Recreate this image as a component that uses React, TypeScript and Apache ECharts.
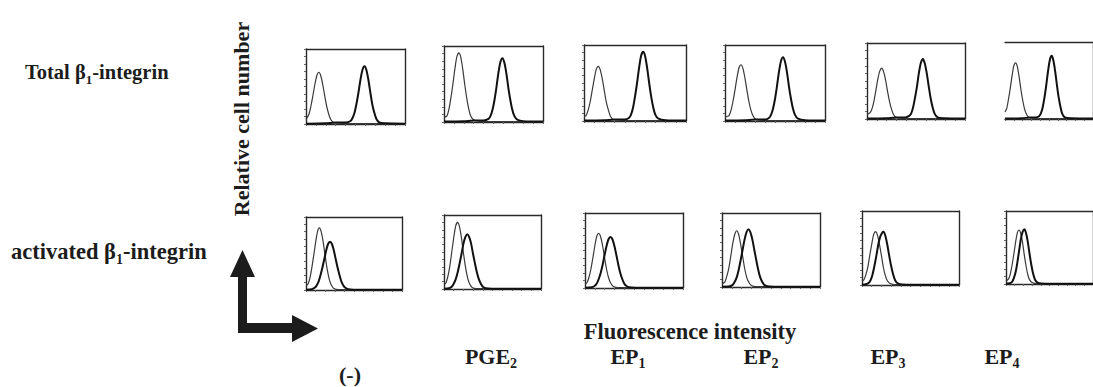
import React, { useEffect, useRef } from "react";
import * as echarts from "echarts";

// x = % of panel width (fluorescence), y = % of panel height (relative cell number)
// Row 1: Total β1-integrin ; CTRL = thin control histogram, AB = thick stained histogram
const TOP_NEG_CTRL = [[0,6],[3,13],[5,24],[7,38],[9,53],[11,65],[13,69],[15,64],[17,52],[19,37],[21,23],[23,13],[25,6],[28,2],[33,1],[50,0.5],[100,0.5]];
const TOP_NEG_AB = [[0,0.5],[20,1],[30,2],[40,2],[45,4],[47,8],[49,15],[51,27],[53,42],[55,59],[57,72],[59,77],[61,72],[63,59],[65,42],[67,26],[69,15],[71,7],[74,2],[80,1],[100,0.5]];
const TOP_PGE2_CTRL = [[0,6],[3,8],[5,17],[7,32],[9,50],[11,70],[13,86],[15,91],[17,85],[19,69],[21,49],[23,31],[25,17],[27,8],[30,3],[35,1],[50,0.5],[100,0.5]];
const TOP_PGE2_AB = [[0,0.5],[20,1],[30,2],[40,2],[45,4],[47,8],[49,16],[51,29],[53,46],[55,65],[57,79],[59,84],[61,78],[63,64],[65,45],[67,29],[69,16],[71,8],[74,3],[80,1],[100,0.5]];
const TOP_EP1_CTRL = [[0,6],[2,7],[4,14],[6,25],[8,40],[10,55],[12,68],[14,72],[16,67],[18,55],[20,39],[22,24],[24,14],[26,6],[29,2],[34,1],[50,0.5],[100,0.5]];
const TOP_EP1_AB = [[0,0.5],[20,1],[30,2],[40,2],[44,4],[46,8],[48,17],[50,32],[52,50],[54,70],[56,86],[58,91],[60,85],[62,69],[64,49],[66,31],[68,17],[70,8],[73,3],[80,1],[100,0.5]];
const TOP_EP2_CTRL = [[0,5],[2,6],[4,7],[6,14],[8,26],[10,41],[12,57],[14,70],[16,74],[18,69],[20,56],[22,40],[24,25],[26,14],[28,7],[31,2],[36,1],[50,0.5],[100,0.5]];
const TOP_EP2_AB = [[0,0.5],[20,1],[30,2],[40,2],[44,4],[46,8],[48,16],[50,29],[52,46],[54,65],[56,79],[58,84],[60,78],[62,64],[64,45],[66,29],[68,16],[70,8],[73,3],[80,1],[100,0.5]];
const TOP_EP3_CTRL = [[0,6],[3,8],[5,13],[7,23],[9,37],[11,52],[13,63],[15,67],[17,62],[19,51],[21,36],[23,23],[25,13],[27,6],[30,2],[35,1],[50,0.5],[100,0.5]];
const TOP_EP3_AB = [[0,0.5],[20,1],[30,2],[39,2],[43,4],[45,7],[47,15],[49,28],[51,43],[53,61],[55,74],[57,79],[59,73],[61,60],[63,43],[65,27],[67,15],[69,7],[72,2],[78,1],[100,0.5]];
const TOP_EP4_CTRL = [[0,9],[2,14],[4,26],[6,40],[8,56],[10,69],[12,73],[14,68],[16,55],[18,39],[20,25],[22,14],[24,7],[27,2],[32,1],[50,0.5],[100,0.5]];
const TOP_EP4_AB = [[0,0.5],[20,1],[28,2],[35,2],[39,4],[41,8],[43,16],[45,29],[47,45],[49,63],[51,77],[53,82],[55,76],[57,62],[59,44],[61,28],[63,16],[65,7],[68,2],[75,1],[100,0.5]];

// Row 2: activated β1-integrin
const BOT_NEG_CTRL = [[0,6],[2,8],[4,16],[6,30],[8,47],[10,65],[12,80],[14,85],[16,79],[18,65],[20,46],[22,29],[24,16],[26,8],[29,2],[34,0.5],[100,0.5]];
const BOT_NEG_AB = [[0,0.5],[6,1],[9,3],[11,6],[13,11],[15,20],[17,30],[19,42],[21,54],[23,63],[25,66],[27,63],[29,54],[31,42],[33,30],[35,20],[37,11],[39,6],[41,3],[44,1],[50,0.5],[100,0.5]];
const BOT_PGE2_CTRL = [[0,6],[2,8],[4,17],[6,31],[8,50],[10,69],[12,85],[14,90],[16,84],[18,69],[20,49],[22,31],[24,17],[26,8],[29,2],[34,0.5],[100,0.5]];
const BOT_PGE2_AB = [[0,0.5],[5,1],[8,3],[10,7],[12,13],[14,22],[16,34],[18,47],[20,61],[22,70],[24,74],[26,70],[28,61],[30,47],[32,34],[34,22],[36,13],[38,7],[40,3],[43,1],[50,0.5],[100,0.5]];
const BOT_EP1_CTRL = [[0,5],[2,7],[4,14],[6,25],[8,40],[10,56],[12,69],[14,73],[16,68],[18,56],[20,40],[22,25],[24,14],[26,7],[29,2],[34,0.5],[100,0.5]];
const BOT_EP1_AB = [[0,0.5],[7,1],[10,3],[12,6],[14,12],[16,20],[18,31],[20,44],[22,56],[24,65],[26,68],[28,65],[30,56],[32,44],[34,31],[36,20],[38,12],[40,6],[42,3],[45,1],[52,0.5],[100,0.5]];
const BOT_EP2_CTRL = [[0,4],[3,7],[5,15],[7,26],[9,42],[11,59],[13,71],[15,76],[17,71],[19,58],[21,42],[23,26],[25,14],[27,7],[30,2],[35,0.5],[100,0.5]];
const BOT_EP2_AB = [[0,0.5],[8,1],[11,3],[13,7],[15,13],[17,23],[19,36],[21,50],[23,64],[25,74],[27,78],[29,74],[31,64],[33,50],[35,36],[37,23],[39,13],[41,7],[43,3],[46,1],[53,0.5],[100,0.5]];
const BOT_EP3_CTRL = [[0,5],[2,7],[4,14],[6,24],[8,40],[10,55],[12,68],[14,72],[16,67],[18,55],[20,40],[22,24],[24,13],[26,6],[29,2],[34,0.5],[100,0.5]];
const BOT_EP3_AB = [[0,0.5],[4,1],[7,3],[9,7],[11,15],[13,27],[15,41],[17,56],[19,66],[21,71],[22,72],[24,67],[26,55],[28,40],[30,26],[32,15],[34,7],[36,3],[39,1],[46,0.5],[100,0.5]];
const BOT_EP4_CTRL = [[0,4],[3,7],[5,14],[7,26],[9,41],[11,57],[13,70],[15,74],[17,69],[19,57],[21,40],[23,25],[25,13],[27,6],[30,2],[35,0.5],[100,0.5]];
const BOT_EP4_AB = [[0,0.5],[4,1],[7,3],[9,8],[11,16],[13,29],[15,45],[17,61],[19,71],[21,75],[23,70],[25,58],[27,42],[29,27],[31,15],[33,7],[35,3],[38,1],[45,0.5],[100,0.5]];

// text pieces: [main, subscript, main]
const ROW_LABELS = [["Total β", "1", "-integrin"], ["activated β", "1", "-integrin"]];
const TREATMENTS = [["(-)"], ["PGE", "2"], ["EP", "1"], ["EP", "2"], ["EP", "3"], ["EP", "4"]];
const Y_TITLE = "Relative cell number";
const X_TITLE = "Fluorescence intensity";

const PANELS = [
  { box: [306, 49, 99, 75], ctrl: TOP_NEG_CTRL, ab: TOP_NEG_AB, left: true },
  { box: [444, 46, 99, 76], ctrl: TOP_PGE2_CTRL, ab: TOP_PGE2_AB, left: true },
  { box: [584, 45, 102, 76], ctrl: TOP_EP1_CTRL, ab: TOP_EP1_AB, left: true },
  { box: [725, 45, 100, 76], ctrl: TOP_EP2_CTRL, ab: TOP_EP2_AB, left: true },
  { box: [867, 43, 98, 76], ctrl: TOP_EP3_CTRL, ab: TOP_EP3_AB, left: true },
  { box: [1005, 42, 98, 77], ctrl: TOP_EP4_CTRL, ab: TOP_EP4_AB, left: false },
  { box: [306, 217, 96, 73], ctrl: BOT_NEG_CTRL, ab: BOT_NEG_AB, left: true },
  { box: [444, 215, 97, 74], ctrl: BOT_PGE2_CTRL, ab: BOT_PGE2_AB, left: true },
  { box: [585, 213, 98, 75], ctrl: BOT_EP1_CTRL, ab: BOT_EP1_AB, left: true },
  { box: [722, 213, 98, 74], ctrl: BOT_EP2_CTRL, ab: BOT_EP2_AB, left: true },
  { box: [862, 211, 97, 74], ctrl: BOT_EP3_CTRL, ab: BOT_EP3_AB, left: true },
  { box: [1006, 211, 98, 73], ctrl: BOT_EP4_CTRL, ab: BOT_EP4_AB, left: true },
];

const FONT = "'Liberation Serif', 'Times New Roman', serif";
const INK = "#1c1c1c";

let measureCtx: CanvasRenderingContext2D | null = null;
function measure(text: string, size: number) {
  if (!measureCtx) measureCtx = document.createElement("canvas").getContext("2d");
  if (!measureCtx) return text.length * size * 0.5;
  measureCtx.font = `bold ${size}px ${FONT}`;
  return measureCtx.measureText(text).width;
}

// pieces alternate main / subscript / main ...
function labelElements(pieces: string[], x: number, y: number, size: number, anchor: "left" | "center") {
  const subSize = Math.round(size * 0.62);
  const widths = pieces.map((p, i) => measure(p, i % 2 === 1 ? subSize : size));
  const total = widths.reduce((a, b) => a + b, 0);
  let cx = anchor === "center" ? x - total / 2 : x;
  const els: any[] = [];
  pieces.forEach((p, i) => {
    const isSub = i % 2 === 1;
    const fs = isSub ? subSize : size;
    els.push({
      type: "text", x: cx, y: isSub ? y + size * 0.36 : y,
      style: {
        text: p, font: `bold ${fs}px ${FONT}`, fill: INK,
        align: "left", verticalAlign: "middle", lineHeight: isSub ? subSize * 0.8 : size * 0.65,
      },
    });
    cx += widths[i];
  });
  return els;
}

export default function App() {
  const ref = useRef<HTMLDivElement>(null);
  useEffect(() => {
    if (!ref.current) return;
    const chart = echarts.init(ref.current, null, { renderer: "svg" });
    const axisLine = { show: true, onZero: false, lineStyle: { color: "#2a2a2a", width: 1.4 } };
    const grids: any[] = [];
    const xAxes: any[] = [];
    const yAxes: any[] = [];
    const series: any[] = [];
    PANELS.forEach((p, i) => {
      grids.push({ left: p.box[0], top: p.box[1], width: p.box[2], height: p.box[3], show: false });
      xAxes.push({
        gridIndex: i, type: "value", min: 0, max: 100, interval: 10, position: "bottom",
        axisLine, axisTick: { show: true, inside: false, length: 2, lineStyle: { color: "#666" } },
        axisLabel: { show: false }, splitLine: { show: false },
      });
      xAxes.push({
        gridIndex: i, type: "value", min: 0, max: 100, position: "top",
        axisLine, axisTick: { show: false }, axisLabel: { show: false }, splitLine: { show: false },
      });
      yAxes.push({
        gridIndex: i, type: "value", min: 0, max: 100, interval: 10, position: "left",
        axisLine: { ...axisLine, show: p.left },
        axisTick: { show: p.left, inside: false, length: 2, lineStyle: { color: "#666" } },
        axisLabel: { show: false }, splitLine: { show: false },
      });
      yAxes.push({
        gridIndex: i, type: "value", min: 0, max: 100, position: "right",
        axisLine, axisTick: { show: false }, axisLabel: { show: false }, splitLine: { show: false },
      });
      series.push({
        type: "line", xAxisIndex: 2 * i, yAxisIndex: 2 * i, data: p.ctrl,
        showSymbol: false, smooth: 0.25, lineStyle: { color: "#3a3a3a", width: 1.2 },
      });
      series.push({
        type: "line", xAxisIndex: 2 * i, yAxisIndex: 2 * i, data: p.ab,
        showSymbol: false, smooth: 0.25, lineStyle: { color: "#111", width: 2 },
      });
    });

    const treatPos = [[350, 374], [491, 356], [628, 356], [761, 356], [888, 356], [1002, 356]];
    const graphic: any[] = [
      ...labelElements(ROW_LABELS[0], 25, 72, 20.5, "left"),
      ...labelElements(ROW_LABELS[1], 11, 251, 22.5, "left"),
      {
        type: "text", x: 241, y: 119, rotation: Math.PI / 2,
        style: { text: Y_TITLE, font: `bold 22px ${FONT}`, fill: INK, align: "center", verticalAlign: "middle", lineHeight: 16 },
      },
      {
        type: "text", x: 690, y: 331,
        style: { text: X_TITLE, font: `bold 22.5px ${FONT}`, fill: INK, align: "center", verticalAlign: "middle", lineHeight: 14 },
      },
      { type: "rect", shape: { x: 238, y: 272, width: 9, height: 61 }, style: { fill: INK } },
      { type: "polygon", shape: { points: [[242.5, 250], [230, 277], [255, 277]] }, style: { fill: INK } },
      { type: "rect", shape: { x: 238, y: 323, width: 57, height: 10 }, style: { fill: INK } },
      { type: "polygon", shape: { points: [[292, 315], [318, 328.5], [292, 342]] }, style: { fill: INK } },
    ];
    TREATMENTS.forEach((t, i) => {
      graphic.push(...labelElements(t, treatPos[i][0], treatPos[i][1], 22, "center"));
    });

    chart.setOption({
      animation: false,
      backgroundColor: "#ffffff",
      grid: grids,
      xAxis: xAxes,
      yAxis: yAxes,
      series,
      graphic,
    });
    return () => chart.dispose();
  }, []);
  return (
    <div
      ref={ref}
      style={{ position: "fixed", left: 0, top: 0, width: 1093, height: 387, background: "#fff" }}
    />
  );
}
